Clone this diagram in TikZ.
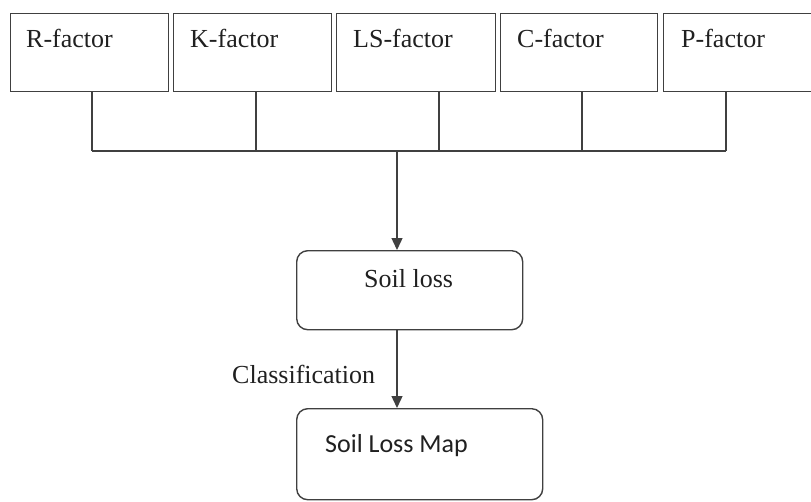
\documentclass[tikz,border=0pt]{standalone}
\usepackage{fontspec}
\setmainfont{Liberation Serif}
\newfontfamily\timesfont{Liberation Serif}
\newfontfamily\calibrifont{Carlito}
\usetikzlibrary{arrows.meta}
\definecolor{linec}{HTML}{404040}
\definecolor{textc}{HTML}{202020}
\tikzset{
  factorbox/.style={draw=linec, line width=1.4pt, rectangle, minimum height=78pt, inner sep=0pt, anchor=north west},
  roundbox/.style={draw=linec, line width=1.4pt, rectangle, rounded corners=11pt, inner sep=0pt, anchor=north west},
  lbl/.style={anchor=base west, inner sep=0pt, text=textc, font=\timesfont\fontsize{26}{30}\selectfont},
  conn/.style={draw=linec, line width=1.4pt},
  arr/.style={conn, -{Triangle[length=12pt,width=11pt]}}
}
\begin{document}
\begin{tikzpicture}[x=1pt,y=-1pt]
\useasboundingbox (0,0) rectangle (811,501);
% factor boxes
\node[factorbox, minimum width=158pt] (R) at (10,13) {};
\node[factorbox, minimum width=158pt] (K) at (173,13) {};
\node[factorbox, minimum width=159pt] (LS) at (336,13) {};
\node[factorbox, minimum width=157pt] (C) at (500,13) {};
\node[factorbox, minimum width=160pt] (P) at (663,13) {};
\node[lbl] (tR) at (26,47) {R-factor};
\node[lbl] (tK) at (190,47) {K-factor};
\node[lbl] (tLS) at (353,47) {LS-factor};
\node[lbl] (tC) at (517,47) {C-factor};
\node[lbl] (tP) at (681,47) {P-factor};
% bus coordinates
\coordinate (dR) at (92,151);
\coordinate (dK) at (256,151);
\coordinate (dLS) at (439,151);
\coordinate (dC) at (582,151);
\coordinate (dP) at (726,151);
\coordinate (J) at (397,151);
\draw[conn] (R.south -| dR) -- (dR);
\draw[conn] (K.south -| dK) -- (dK);
\draw[conn] (LS.south -| dLS) -- (dLS);
\draw[conn] (C.south -| dC) -- (dC);
\draw[conn] (P.south -| dP) -- (dP);
\draw[conn] (dR) -- (dP);
% soil loss
\node[roundbox, minimum width=226pt, minimum height=79pt] (soil) at (296,250) {};
\node[lbl] (tsoil) at (364,287) {Soil loss};
\draw[arr] (J) -- (J |- soil.north);
% map
\node[roundbox, minimum width=246pt, minimum height=91pt] (map) at (296,408) {};
\node[lbl, font=\calibrifont\fontsize{26}{30}\selectfont] (tmap) at (325,452) {Soil Loss Map};
\draw[arr] (soil.south -| J) -- (map.north -| J);
\node[lbl] (tclass) at (232,383) {Classification};
\end{tikzpicture}
\end{document}
